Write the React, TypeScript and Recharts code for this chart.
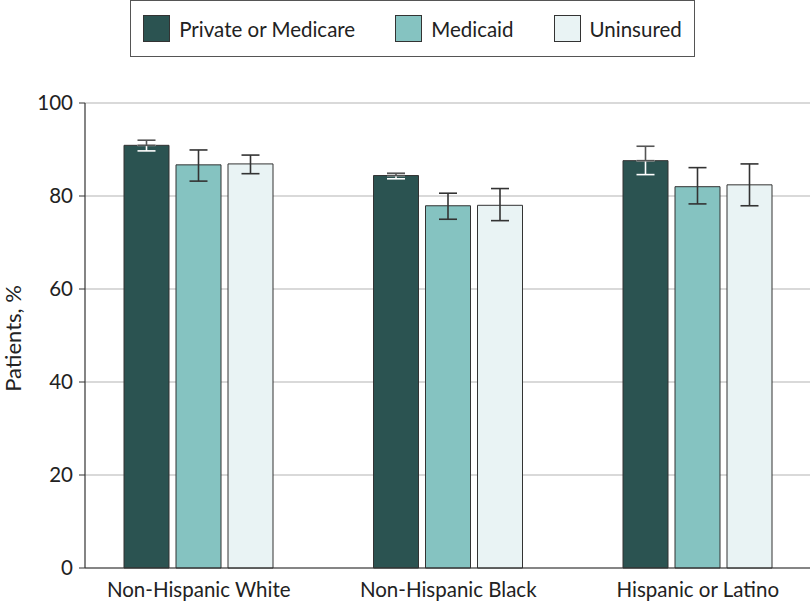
import { Bar, BarChart, CartesianGrid, ErrorBar, Legend, XAxis, YAxis } from "recharts";

const categories = ["Non-Hispanic White", "Non-Hispanic Black", "Hispanic or Latino"];

const privateMedicare = [90.9, 84.4, 87.6];
const privateLow = [89.7, 83.7, 84.6];
const privateHigh = [92.0, 84.9, 90.7];

const medicaid = [86.7, 77.9, 82.0];
const medicaidLow = [83.2, 75.0, 78.3];
const medicaidHigh = [89.9, 80.6, 86.1];

const uninsured = [86.9, 78.0, 82.4];
const uninsuredLow = [84.8, 74.7, 77.9];
const uninsuredHigh = [88.8, 81.6, 86.9];

const yTicks = [0, 20, 40, 60, 80, 100];

const FONT = "Lato, 'DejaVu Sans', sans-serif";
const DARK = "#2b5351";
const MID = "#85c3c1";
const LIGHT = "#e9f3f4";
const INK = "#333";

const data = categories.map((name, i) => ({
  name,
  private: privateMedicare[i],
  // dark bar: white whisker below the top, dark above it
  privateDown: [privateMedicare[i] - privateLow[i], 0],
  privateUp: [0, privateHigh[i] - privateMedicare[i]],
  medicaid: medicaid[i],
  medicaidErr: [medicaid[i] - medicaidLow[i], medicaidHigh[i] - medicaid[i]],
  uninsured: uninsured[i],
  uninsuredErr: [uninsured[i] - uninsuredLow[i], uninsuredHigh[i] - uninsured[i]],
}));

const legendItems = [
  { label: "Private or Medicare", color: DARK },
  { label: "Medicaid", color: MID },
  { label: "Uninsured", color: LIGHT },
];

function LegendBox() {
  return (
    <div
      style={{
        boxSizing: "border-box",
        width: 565,
        height: 57,
        border: "1.5px solid #555",
        display: "flex",
        alignItems: "center",
        justifyContent: "center",
        fontFamily: FONT,
        fontSize: 20.5,
        color: "#222",
      }}
    >
      {legendItems.map((item, i) => (
        <div
          key={item.label}
          style={{ display: "flex", alignItems: "center", marginLeft: i === 0 ? 0 : 40 }}
        >
          <div
            style={{
              boxSizing: "border-box",
              width: 27,
              height: 27,
              background: item.color,
              border: `1px solid ${INK}`,
              marginRight: 9,
            }}
          />
          <span>{item.label}</span>
        </div>
      ))}
    </div>
  );
}

export default function App() {
  return (
    <div style={{ position: "absolute", left: 0, top: 0, width: 810, height: 604, background: "#fff" }}>
      <BarChart
        width={810}
        height={604}
        data={data}
        margin={{ top: 46, right: 0, bottom: 0, left: 0 }}
        barSize={45}
        barGap={7}
      >
        <CartesianGrid vertical={false} stroke="#d9d9d9" strokeWidth={2} />
        <XAxis
          dataKey="name"
          height={36}
          padding={{ left: -11, right: -12.5 }}
          axisLine={{ stroke: INK, strokeWidth: 1.2 }}
          tickLine={false}
          tick={{ fontSize: 20.5, fill: "#222", fontFamily: FONT }}
          tickMargin={8}
        />
        <YAxis
          width={85}
          domain={[0, 100]}
          ticks={yTicks}
          axisLine={{ stroke: INK, strokeWidth: 1.2 }}
          tickLine={{ stroke: INK }}
          tickSize={6}
          tickMargin={6}
          tick={{ fontSize: 20.5, fill: "#222", fontFamily: FONT }}
          label={{
            value: "Patients, %",
            angle: -90,
            position: "insideLeft",
            offset: 13,
            dy: 3,
            style: { textAnchor: "middle", fontSize: 22, fill: "#222", fontFamily: FONT },
          }}
        />
        <Legend
          verticalAlign="top"
          wrapperStyle={{ top: 0, left: 130, width: 565 }}
          content={() => <LegendBox />}
        />
        <Bar dataKey="private" name="Private or Medicare" fill={DARK} stroke={INK} strokeWidth={1} isAnimationActive={false}>
          <ErrorBar dataKey="privateDown" direction="y" width={9} stroke="#fff" strokeWidth={1.6} />
          <ErrorBar dataKey="privateUp" direction="y" width={9} stroke="#555" strokeWidth={1.6} />
        </Bar>
        <Bar dataKey="medicaid" name="Medicaid" fill={MID} stroke={INK} strokeWidth={1} isAnimationActive={false}>
          <ErrorBar dataKey="medicaidErr" direction="y" width={9} stroke={INK} strokeWidth={1.6} />
        </Bar>
        <Bar dataKey="uninsured" name="Uninsured" fill={LIGHT} stroke={INK} strokeWidth={1} isAnimationActive={false}>
          <ErrorBar dataKey="uninsuredErr" direction="y" width={9} stroke={INK} strokeWidth={1.6} />
        </Bar>
      </BarChart>
    </div>
  );
}
